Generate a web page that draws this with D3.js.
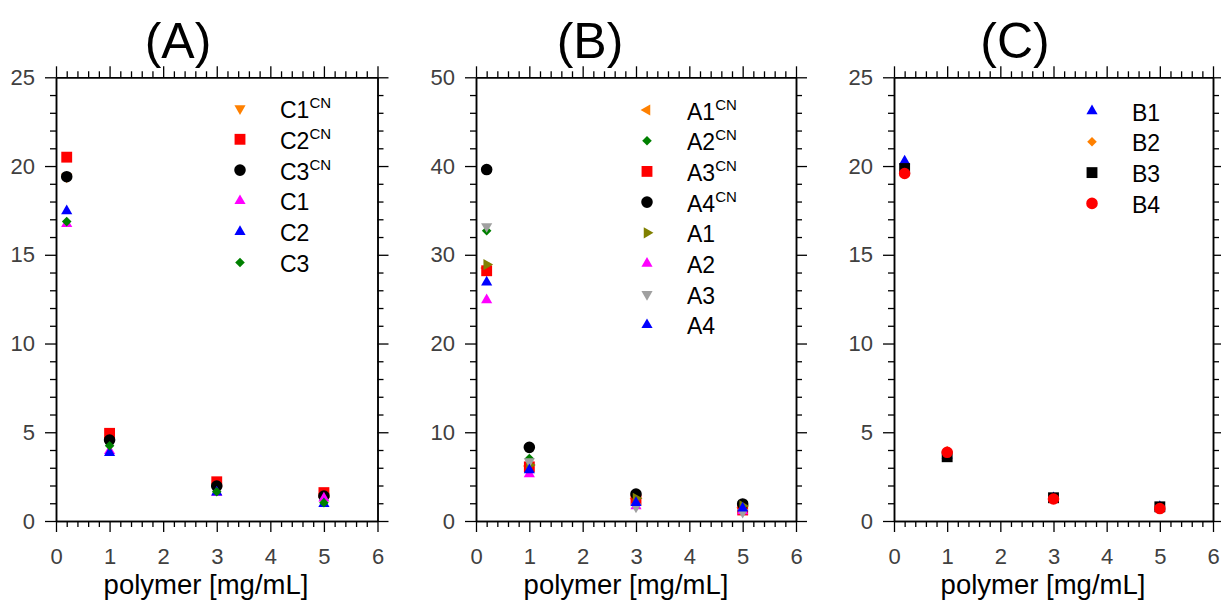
<!DOCTYPE html>
<html><head><meta charset="utf-8">
<script src="https://cdn.jsdelivr.net/npm/d3@7"></script>
<style>
body{margin:0;background:#fff}
text{font-family:"Liberation Sans",Arial,Helvetica,sans-serif}
</style>
</head><body>
<svg id="chart" width="1221" height="606"></svg>
<script>
// ---------- data ----------
const xValues = [0.2, 1, 3, 5];
const xTicks = [0, 1, 2, 3, 4, 5, 6];
const yTicksA = [0, 5, 10, 15, 20, 25];
const yTicksB = [0, 10, 20, 30, 40, 50];
const yTicksC = [0, 5, 10, 15, 20, 25];
const panelTitles = ["(A)", "(B)", "(C)"];
const xAxisLabel = "polymer [mg/mL]";

// Panel A
const namesA = ["C1", "C2", "C3", "C1", "C2", "C3"];
const supA = ["CN", "CN", "CN", "", "", ""];
const C1CN = [19.4, 4.55, 1.97, 1.40];
const C2CN = [20.5, 4.94, 2.21, 1.60];
const C3CN = [19.4, 4.56, 1.97, 1.41];
const C1 = [16.75, 3.95, 1.60, 1.28];
const C2 = [17.47, 3.85, 1.62, 0.97];
const C3 = [16.87, 4.24, 1.65, 1.03];

// Panel B
const namesB = ["A1", "A2", "A3", "A4", "A1", "A2", "A3", "A4"];
const supB = ["CN", "CN", "CN", "CN", "", "", "", ""];
const A1CN = [28.5, 6.2, 2.5, 1.5];
const A2CN = [32.7, 7.05, 2.2, 1.4];
const A3CN = [28.2, 6.1, 2.37, 1.24];
const A4CN = [39.6, 8.3, 3.04, 1.92];
const A1 = [28.9, 6.3, 2.55, 1.7];
const A2 = [24.9, 5.3, 1.7, 1.13];
const A3 = [33.2, 6.7, 1.6, 1.0];
const A4 = [26.9, 5.75, 2.06, 1.43];

// Panel C
const namesC = ["B1", "B2", "B3", "B4"];
const supC = ["", "", "", ""];
const B1 = [20.27, 3.7, 1.3, 0.8];
const B2 = [19.7, 3.95, 1.3, 0.75];
const B3 = [19.86, 3.62, 1.31, 0.8];
const B4 = [19.58, 3.87, 1.24, 0.7];

// ---------- styles / layout ----------
const COL = {orange:"#ff8000", red:"#ff0000", black:"#000000", magenta:"#ff00ff",
             blue:"#0000ff", green:"#008000", olive:"#808000", gray:"#a0a0a0"};

const panels = [
  { left:56, right:377.5, top:77.3, bottom:521, yMax:25, yTicks:yTicksA, yMinorStep:1,
    title:panelTitles[0], titleX:178, labelX:206,
    legendX:240, legendTextX:280, legendY:108.5, legendStep:30.8,
    series:[
      {name:namesA[0], sup:supA[0], v:C1CN, shape:"triDown", color:COL.orange},
      {name:namesA[1], sup:supA[1], v:C2CN, shape:"square", color:COL.red},
      {name:namesA[2], sup:supA[2], v:C3CN, shape:"circle", color:COL.black},
      {name:namesA[3], sup:supA[3], v:C1, shape:"triUp", color:COL.magenta},
      {name:namesA[4], sup:supA[4], v:C2, shape:"triUp", color:COL.blue},
      {name:namesA[5], sup:supA[5], v:C3, shape:"diamond", color:COL.green}
    ]},
  { left:476, right:796, top:77.3, bottom:521, yMax:50, yTicks:yTicksB, yMinorStep:2,
    title:panelTitles[1], titleX:590, labelX:626,
    legendX:647, legendTextX:687, legendY:110, legendStep:30.7,
    series:[
      {name:namesB[0], sup:supB[0], v:A1CN, shape:"triLeft", color:COL.orange},
      {name:namesB[1], sup:supB[1], v:A2CN, shape:"diamond", color:COL.green},
      {name:namesB[2], sup:supB[2], v:A3CN, shape:"square", color:COL.red},
      {name:namesB[3], sup:supB[3], v:A4CN, shape:"circle", color:COL.black},
      {name:namesB[4], sup:supB[4], v:A1, shape:"triRight", color:COL.olive},
      {name:namesB[5], sup:supB[5], v:A2, shape:"triUp", color:COL.magenta},
      {name:namesB[6], sup:supB[6], v:A3, shape:"triDown", color:COL.gray},
      {name:namesB[7], sup:supB[7], v:A4, shape:"triUp", color:COL.blue}
    ]},
  { left:894, right:1213, top:77.3, bottom:521, yMax:25, yTicks:yTicksC, yMinorStep:1,
    title:panelTitles[2], titleX:1015, labelX:1043,
    legendX:1092, legendTextX:1132, legendY:111, legendStep:30.8,
    series:[
      {name:namesC[0], sup:supC[0], v:B1, shape:"triUp", color:COL.blue},
      {name:namesC[1], sup:supC[1], v:B2, shape:"diamond", color:COL.orange},
      {name:namesC[2], sup:supC[2], v:B3, shape:"square", color:COL.black},
      {name:namesC[3], sup:supC[3], v:B4, shape:"circle", color:COL.red}
    ]}
];

const shapeDef = {
  triUp:   {type:d3.symbolTriangle, size:54, rot:0},
  triDown: {type:d3.symbolTriangle, size:54, rot:180},
  triLeft: {type:d3.symbolTriangle, size:54, rot:-90},
  triRight:{type:d3.symbolTriangle, size:54, rot:90},
  square:  {type:d3.symbolSquare, size:118, rot:0},
  circle:  {type:d3.symbolCircle, size:105, rot:0},
  diamond: {type:d3.symbolSquare, size:46, rot:45}
};
function symPath(s){ return d3.symbol().type(shapeDef[s].type).size(shapeDef[s].size)(); }

const svg = d3.select("#chart");
const tickColor = "#404040";

panels.forEach(p => {
  const x = d3.scaleLinear().domain([0, 6]).range([p.left, p.right]);
  const y = d3.scaleLinear().domain([0, p.yMax]).range([p.bottom, p.top]);
  const g = svg.append("g");

  const xMinor = d3.range(0, 6.0001, 0.2).filter(v => Math.abs(v - Math.round(v)) > 1e-6);
  const yMinor = d3.range(0, p.yMax + 0.0001, p.yMinorStep).filter(v => !p.yTicks.includes(v));

  const styleAxis = sel => {
    sel.select(".domain").attr("stroke", "#000").attr("stroke-width", 1.5);
    sel.selectAll(".tick line").attr("stroke", "#000").attr("stroke-width", 1.3);
  };
  // minor ticks
  g.append("g").attr("transform", `translate(0,${p.bottom})`)
    .call(d3.axisBottom(x).tickValues(xMinor).tickSize(6).tickSizeOuter(0).tickFormat(""))
    .call(styleAxis);
  g.append("g").attr("transform", `translate(0,${p.top})`)
    .call(d3.axisTop(x).tickValues(xMinor).tickSize(6).tickSizeOuter(0).tickFormat(""))
    .call(styleAxis);
  g.append("g").attr("transform", `translate(${p.left},0)`)
    .call(d3.axisLeft(y).tickValues(yMinor).tickSize(6).tickSizeOuter(0).tickFormat(""))
    .call(styleAxis);
  g.append("g").attr("transform", `translate(${p.right},0)`)
    .call(d3.axisRight(y).tickValues(yMinor).tickSize(6).tickSizeOuter(0).tickFormat(""))
    .call(styleAxis);

  // major ticks
  const bx = g.append("g").attr("transform", `translate(0,${p.bottom})`)
    .call(d3.axisBottom(x).tickValues(xTicks).tickSize(11).tickSizeOuter(0).tickPadding(16).tickFormat(d3.format("d")))
    .call(styleAxis);
  bx.selectAll("text").attr("fill", tickColor).attr("font-size", 22)
    .attr("font-family", '"Liberation Sans",Arial,sans-serif');
  g.append("g").attr("transform", `translate(0,${p.top})`)
    .call(d3.axisTop(x).tickValues(xTicks).tickSize(11).tickSizeOuter(0).tickFormat(""))
    .call(styleAxis);
  const ly = g.append("g").attr("transform", `translate(${p.left},0)`)
    .call(d3.axisLeft(y).tickValues(p.yTicks).tickSize(11).tickSizeOuter(0).tickPadding(10).tickFormat(d3.format("d")))
    .call(styleAxis);
  ly.selectAll("text").attr("fill", tickColor).attr("font-size", 22)
    .attr("font-family", '"Liberation Sans",Arial,sans-serif');
  g.append("g").attr("transform", `translate(${p.right},0)`)
    .call(d3.axisRight(y).tickValues(p.yTicks).tickSize(11).tickSizeOuter(0).tickFormat(""))
    .call(styleAxis);

  // title
  g.append("text").attr("x", p.titleX).attr("y", 58).attr("text-anchor", "middle")
    .attr("font-size", 50).attr("fill", "#000").text(p.title);
  // x label
  g.append("text").attr("x", p.labelX).attr("y", 594).attr("text-anchor", "middle")
    .attr("font-size", 27.5).attr("fill", "#000").text(xAxisLabel);

  // points
  p.series.forEach(s => {
    const def = shapeDef[s.shape];
    g.append("g").selectAll("path").data(s.v.map((v, i) => [xValues[i], v])).join("path")
      .attr("d", symPath(s.shape))
      .attr("transform", d => `translate(${x(d[0])},${y(d[1])}) rotate(${def.rot})`)
      .attr("fill", s.color);
  });

  // legend
  p.series.forEach((s, i) => {
    const cy = p.legendY + i * p.legendStep;
    const def = shapeDef[s.shape];
    g.append("path").attr("d", symPath(s.shape))
      .attr("transform", `translate(${p.legendX},${cy}) rotate(${def.rot})`)
      .attr("fill", s.color);
    const t = g.append("text").attr("x", p.legendTextX).attr("y", cy + 9.5)
      .attr("font-size", 23).attr("fill", "#000");
    t.append("tspan").text(s.name);
    if (s.sup) t.append("tspan").attr("font-size", 15).attr("dy", -10).text(s.sup);
  });
});
</script>
</body></html>
